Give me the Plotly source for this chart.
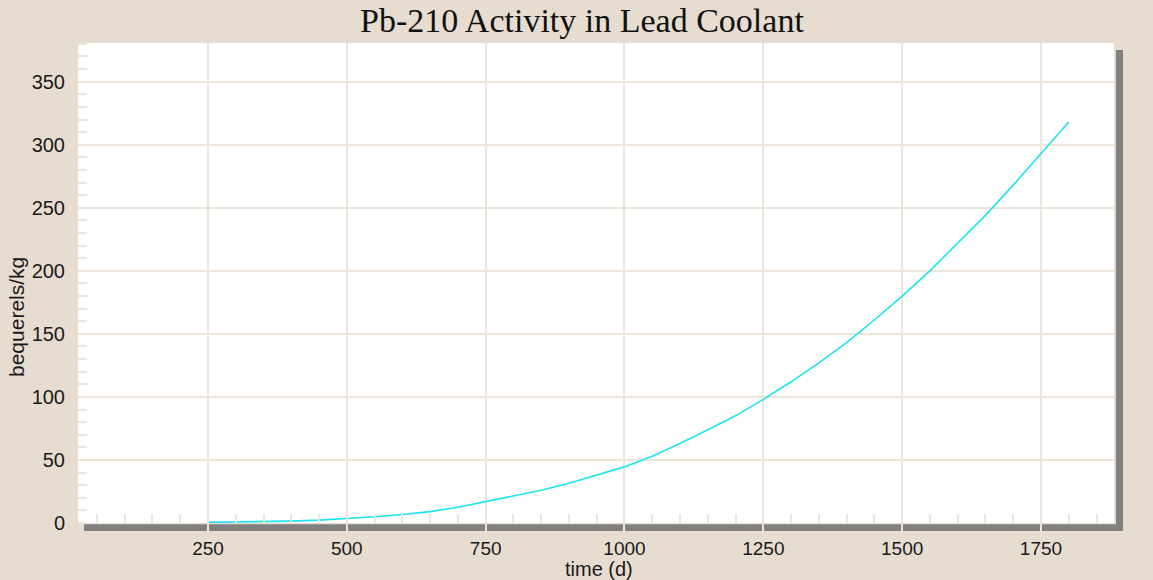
import plotly.graph_objects as go

# Data
time_d = [250, 300, 350, 400, 450, 500, 550, 600, 650, 700, 750, 800, 850, 900, 950,
          1000, 1050, 1100, 1150, 1200, 1250, 1300, 1350, 1400, 1450, 1500, 1550,
          1600, 1650, 1700, 1750, 1800]
activity_bq_kg = [0.5, 0.7, 1.0, 1.5, 2.3, 3.5, 5.0, 6.8, 9.0, 12.5, 17, 21, 26, 31.5, 38,
                  44.5, 53, 63, 74, 85, 98, 112, 127, 143, 161, 180, 200,
                  222, 244, 268, 293, 318]
x_tick_vals = [250, 500, 750, 1000, 1250, 1500, 1750]
y_tick_vals = [0, 50, 100, 150, 200, 250, 300, 350]

title_text = "Pb-210 Activity in Lead Coolant"
x_title = "time (d)"
y_title = "bequerels/kg"

W, H = 1153, 580
L, R, T, B = 78, 1114, 43, 523  # plot area pixel edges
PW, PH = R - L, B - T

BG = "#E6DDD0"
GRID = "#EDE5DA"
SHADOW = "#808080"
TXT = "#1a1a1a"


def px(xp):
    return (xp - L) / PW


def py(yp):
    return (B - yp) / PH


fig = go.Figure()
fig.add_trace(go.Scatter(x=time_d, y=activity_bq_kg, mode="lines",
                         line=dict(color="#1DE3EE", width=1.6),
                         showlegend=False, hoverinfo="x+y"))

fig.update_layout(
    width=W, height=H,
    margin=dict(l=L, r=W - R, t=T, b=H - B, pad=0),
    paper_bgcolor=BG, plot_bgcolor="white",
    font=dict(family="Liberation Sans, Arial, sans-serif", color=TXT),
    shapes=[
        dict(type="rect", xref="paper", yref="paper", layer="below",
             x0=px(84), x1=px(1123), y0=py(531), y1=py(524.3),
             fillcolor=SHADOW, line=dict(width=0)),
        dict(type="rect", xref="paper", yref="paper", layer="below",
             x0=px(1116), x1=px(1123), y0=py(531), y1=py(50),
             fillcolor=SHADOW, line=dict(width=0)),
    ],
    annotations=[
        dict(text=title_text, xref="paper", yref="paper", x=px(582), y=py(21),
             xanchor="center", yanchor="middle", showarrow=False,
             font=dict(family="Liberation Serif, Times New Roman, serif", size=34, color="#111")),
        dict(text=x_title, xref="paper", yref="paper", x=px(599), y=py(569),
             xanchor="center", yanchor="middle", showarrow=False,
             font=dict(size=20, color=TXT)),
        dict(text=y_title, xref="paper", yref="paper", x=px(16), y=py(317),
             xanchor="center", yanchor="middle", showarrow=False, textangle=-90,
             font=dict(size=21, color=TXT)),
    ],
)

fig.update_xaxes(
    range=[15.9, 1881.5], tickvals=x_tick_vals,
    showgrid=True, gridcolor=GRID, gridwidth=1.5,
    zeroline=False, showline=False,
    ticks="outside", ticklen=8, tickcolor=GRID, tickwidth=1.5,
    tickfont=dict(size=19, color=TXT),
    minor=dict(dtick=50, tick0=0, ticks="inside", ticklen=9, tickcolor=GRID,
               tickwidth=1.5, showgrid=False),
)
fig.update_yaxes(
    range=[0, 380.7], tickvals=y_tick_vals,
    showgrid=True, gridcolor=GRID, gridwidth=1.5,
    zeroline=False, showline=False,
    ticks="", ticklabelstandoff=12,
    tickfont=dict(size=20, color=TXT),
    minor=dict(dtick=10, tick0=0, ticks="inside", ticklen=9, tickcolor=GRID,
               tickwidth=1.5, showgrid=False),
)

fig.write_html("out.html",
               config={"displayModeBar": False},
               post_script="document.body.style.margin='0px';"
                           "document.body.style.background='" + BG + "';")
